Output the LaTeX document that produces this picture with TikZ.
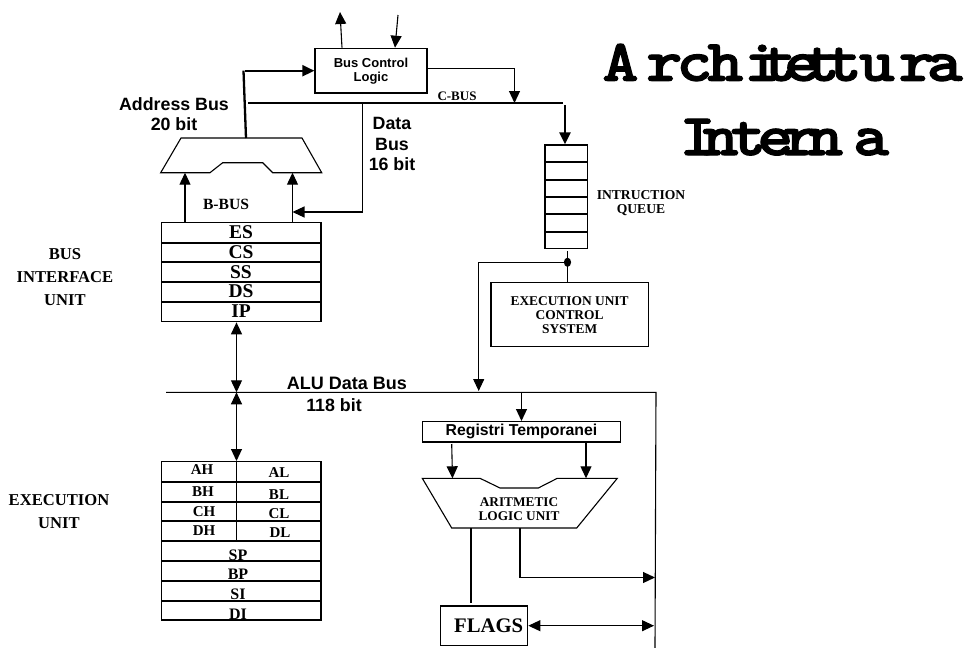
\documentclass[tikz,border=0pt]{standalone}
\usepackage{fontspec}
\setmainfont{Liberation Serif}
\newfontfamily\arialfont{Liberation Sans}
\newfontfamily\titlefont[FakeStretch=1.16,FakeBold=2]{LMMonoLt10-Bold}
\usetikzlibrary{arrows.meta, positioning, calc}

\begin{document}
\begin{tikzpicture}[
    x=1pt, y=-1pt,
    line width=1.1pt,
    every node/.style={inner sep=0pt, align=center},
    block/.style={rectangle, draw, line width=1.3pt},
    arrow/.style={-{Triangle[length=12pt, width=11pt]}},
    twoway/.style={{Triangle[length=12pt, width=11pt]}-{Triangle[length=12pt, width=11pt]}},
    busline/.style={line width=2.3pt},
    sepline/.style={line width=1.8pt},
    tnr/.style={font=\fontsize{#1}{#1}\selectfont\bfseries},
    ari/.style={font=\fontsize{#1}{#1}\selectfont\arialfont\bfseries},
    titletext/.style={font=\fontsize{59}{59}\selectfont\titlefont, anchor=base west}
]
\useasboundingbox (0,0) rectangle (970,648);

% title
\node[titletext] (title1) at (602,80.7) {A\kern8pt r\kern-6pt c\kern-5pt h\kern1pt i\kern-19pt t\kern-13pt e\kern-16pt t\kern-14pt t\kern-3pt u\kern4pt r\kern-8pt a};
\node[titletext] (title2) at (679,155) {I\kern-13pt n\kern-8pt t\kern-9pt e\kern-11pt r\kern-11pt n\kern10pt a};

% boxes
\node[block, minimum width=112pt, minimum height=44.7pt, ari=13] (bcl) at (371,70.7) {Bus Control\\[1pt]Logic};
\node[block, minimum width=42.3pt, minimum height=103.7pt] (queue) at (566.2,196.9) {};
\node[block, minimum width=157.3pt, minimum height=64pt, tnr=13.4] (eucs) at (569.6,314.7) {EXECUTION UNIT\\[0.6pt]CONTROL\\[0.6pt]SYSTEM};
\node[block, minimum width=197.6pt, minimum height=20.3pt, ari=15.8] (regtemp) at (521.5,431.8) {Registri Temporanei};
\node[block, minimum width=87pt, minimum height=39.3pt, tnr=20.7] (flags) at (484.2,625.7) {\hspace{9pt}FLAGS};
\node[block, minimum width=159.3pt, minimum height=99pt] (segreg) at (241.4,272.2) {};
\node[block, minimum width=159.3pt, minimum height=158.3pt] (genreg) at (241.4,540.8) {};

\foreach \y in {162,179.7,197,214.3,231.7}
    \draw[sepline] (queue.west |- 0,\y) -- (queue.east |- 0,\y);
\foreach \y in {242.7,262.3,282,302}
    \draw[sepline] (segreg.west |- 0,\y) -- (segreg.east |- 0,\y);
\foreach \y in {481.7,501.7,521.3,541,560.7,580.7,600.7}
    \draw[sepline] (genreg.west |- 0,\y) -- (genreg.east |- 0,\y);
\coordinate (gensplit) at (236.4,541);
\draw (genreg.north -| gensplit) -- (gensplit);

% register names
\foreach \name/\y in {ES/232.5,CS/252.5,SS/272,DS/291.5,IP/311.5}
    \node[tnr=19.5] (reg\name) at (241,\y) {\name};
\foreach \name/\x/\y in {AH/202/470,AL/279/473,BH/203/492,BL/279/495,CH/204/512,CL/279/514,DH/204/531,DL/280/533}
    \node[tnr=15] (reg\name) at (\x,\y) {\name};
\foreach \name/\y in {SP/555,BP/574.5,SI/594.5,DI/614}
    \node[tnr=16] (reg\name) at (238,\y) {\name};

% multiplexers
\coordinate (muxtop) at (246,138);
\coordinate (muxa) at (185,172.7);
\coordinate (muxb) at (292.5,172.7);
\draw (181,138) -- (302,138) -- (321.7,172.7) -- (272.7,172.7) -- (262.7,162.7) -- (222.7,162.7)
    -- (210,172.7) -- (160.7,172.7) -- cycle;
\coordinate (alua) at (452.5,478.3);
\coordinate (alub) at (586,478.3);
\coordinate (aluf) at (471,528);
\coordinate (aluo) at (520,528);
\draw (422.3,478.3) -- (480,478.3) -- (500,488) -- (538.3,488) -- (557.3,478.3) -- (617.3,478.3)
    -- (576.7,528) -- (451.7,528) -- cycle;
\node[tnr=13.3] (alutext) at (519,509.5) {ARITMETIC\\[0.4pt]LOGIC UNIT};

% buses
\coordinate (addrtop) at (243.5,70.7);
\coordinate (addrend) at (245,70.7);
\coordinate (cbusl) at (248,103);
\coordinate (cbusr) at (563,103);
\coordinate (cbusd) at (565,105);
\coordinate (cbusin) at (514.5,103);
\coordinate (datatap) at (362.5,103);
\coordinate (databend) at (362.5,212);
\coordinate (dataend) at (292.5,212);
\coordinate (alul) at (166,392.3);
\coordinate (alur) at (656,392.3);
\coordinate (alubot) at (655,648);
\coordinate (bclup) at (340,12);
\coordinate (bclupb) at (342,47.7);
\coordinate (bcldn) at (398,15);
\coordinate (bcldnb) at (395,47.7);
\coordinate (bclout) at (427,68.4);
\coordinate (regl) at (451.7,444);

\draw[arrow] (bclupb) -- (bclup);
\draw[arrow] (bcldn) -- (bcldnb);
\draw[busline] (muxtop) -- (addrtop);
\draw[busline, arrow] (addrend) -- (bcl.west);
\draw[busline] (cbusl) -- (cbusr);
\draw[busline, arrow] (cbusd) -- (queue.north -| cbusd);
\draw[arrow] (bclout) -| (cbusin);
\draw (datatap) -- (databend);
\draw[arrow] (databend) -- (dataend);
\draw[arrow] (segreg.north -| muxa) -- (muxa);
\draw[arrow] (segreg.north -| muxb) -- (muxb);

% control unit link
\coordinate (qbot) at (567.5,251);
\coordinate (junct) at (567.5,262.3);
\coordinate (aluin) at (478.7,262.3);
\coordinate (aluinb) at (478.7,391);
\draw (qbot) -- (eucs.north -| qbot);
\draw (junct) -- (aluin);
\draw[arrow] (aluin) -- (aluinb);
\fill (junct) ellipse (3.6pt and 4.6pt);

% ALU data bus
\coordinate (busa) at (236.5,392.3);
\draw[twoway] (segreg.south -| busa) -- (busa);
\draw[twoway] (busa) -- (genreg.north -| busa);
\draw (alul) -- (alur) -- (alubot);
\draw[arrow] (regtemp.north |- alul) -- (regtemp.north);
\draw[arrow] (regl) -- (alua);
\draw[arrow] (regtemp.south -| alub) -- (alub);
\draw (aluf) -- (471,602.5);
\coordinate (outbend) at (520,577.5);
\coordinate (outend) at (655,577.5);
\draw[arrow] (aluo) -- (outbend) -- (outend);
\coordinate (flagend) at (654,625.7);
\draw[twoway] (flags.east) -- (flagend);

% labels
\node[ari=17.8] (addrlabel) at (174,114) {Address Bus\\[1.7pt]20 bit};
\node[ari=17.8] (datalabel) at (392,144) {Data\\[2.7pt]Bus\\[2.7pt]16 bit};
\node[ari=18] (alulabel) at (347,383) {ALU Data Bus};
\node[ari=17.8] (alubits) at (334,405) {118 bit};
\node[tnr=13] (cbuslabel) at (457,96) {C-BUS};
\node[tnr=15.6] (bbuslabel) at (226,204.5) {B-BUS};
\node[tnr=13.6] (iqlabel) at (641,203) {INTRUCTION\\QUEUE};
\node[tnr=16.6] (biulabel) at (65,277) {BUS\\[6pt]INTERFACE\\[6pt]UNIT};
\node[tnr=16.6] (eulabel) at (59,511.5) {EXECUTION\\[6pt]UNIT};

\end{tikzpicture}
\end{document}
